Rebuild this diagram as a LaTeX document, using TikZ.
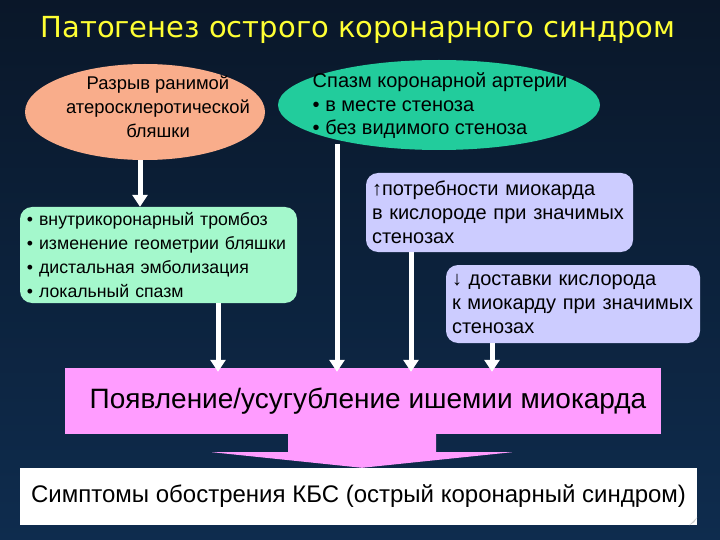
\documentclass[tikz,border=0pt]{standalone}
\usepackage{fontspec}
\setmainfont{Liberation Sans}
\newfontfamily\titlefont{DejaVu Sans}
\usetikzlibrary{shapes.geometric,arrows.meta,calc}
\definecolor{bgtop}{HTML}{0A1729}
\definecolor{bgbot}{HTML}{0E2C4E}
\definecolor{salmon}{HTML}{F9AD8B}
\definecolor{teal}{HTML}{22CC9C}
\definecolor{mint}{HTML}{A4F8CC}
\definecolor{lav}{HTML}{CCCCFF}
\definecolor{pinkbox}{HTML}{FF9CFF}
\definecolor{ttl}{HTML}{FFFF33}
\tikzset{
  ell/.style={ellipse, inner sep=0pt},
  rbox/.style={rectangle, rounded corners=12pt, text=black, align=left, inner ysep=0pt},
  wa/.style={draw=white, line width=5pt, -{Triangle[width=15pt,length=12pt]}},
}
\begin{document}
\begin{tikzpicture}[x=1pt,y=-1pt]
\useasboundingbox (0,0) rectangle (720,540);
\shade[top color=bgtop, bottom color=bgbot] (0,0) rectangle (720,540);
\node[text=ttl, font=\titlefont\fontsize{29}{32}\selectfont] (title) at (358,30) {Патогенез острого коронарного синдром};
\node[ell, fill=salmon, minimum width=240pt, minimum height=96pt] (e1) at (145,112) {};
\node[align=center, text=black, inner sep=0pt, font=\fontsize{18.4}{24}\selectfont] (e1t) at (158,107)
  {Разрыв ранимой\\атеросклеротической\\бляшки};
\node[ell, fill=teal, minimum width=322pt, minimum height=90pt] (e2) at (439,105) {};
\node[align=left, text=black, inner sep=0pt, font=\fontsize{20}{23.5}\selectfont] (e2t) at (440,106)
  {Спазм коронарной артерии\\• в месте стеноза\\• без видимого стеноза};
\node[rbox, fill=mint, inner xsep=7pt, text width=263pt, minimum height=96pt,
  font=\fontsize{17.7}{24}\selectfont] (m) at (158.5,255)
  {• внутрикоронарный тромбоз\\• изменение геометрии бляшки\\• дистальная эмболизация\\• локальный спазм};
\node[rbox, fill=lav, inner xsep=6pt, text width=255pt, minimum height=79pt,
  font=\fontsize{20}{24}\selectfont] (l1) at (499.5,212.5)
  {↑потребности миокарда\\в кислороде при значимых\\стенозах};
\node[rbox, fill=lav, inner xsep=6pt, text width=242pt, minimum height=78pt,
  font=\fontsize{20}{24}\selectfont] (l2) at (573,304)
  {↓ доставки кислорода\\к миокарду при значимых\\стенозах};
\node[rectangle, fill=pinkbox, minimum width=596pt, minimum height=66pt, inner sep=0pt,
  font=\fontsize{28}{30}\selectfont] (p) at (363,401) {\raisebox{-4pt}{\hspace*{10pt}Появление/усугубление ишемии миокарда}};
\node[rectangle, fill=white, minimum width=677pt, minimum height=57pt, inner sep=0pt,
  font=\fontsize{24}{26}\selectfont] (w) at (358.5,496.5) {\raisebox{3pt}{Симптомы обострения КБС (острый коронарный синдром)}};
\fill[gray!40] ($(w.south east)+(-8,0)$) -- ($(w.south east)+(0,-8)$) -- ($(w.south east)+(-3,-3)$) -- cycle;
% block arrow
\fill[pinkbox] ($(p.south)+(-75,0)$) -- ($(p.south)+(73,0)$) -- ($(p.south)+(73,18)$) -- ($(p.south)+(149,18)$)
  -- (w.north -| 362,0) -- ($(p.south)+(-151,18)$) -- ($(p.south)+(-75,18)$) -- cycle;
% arrows
\coordinate (a0) at (140,0);
\coordinate (a1) at (218,0);
\coordinate (a2) at (337,0);
\coordinate (a3) at (411,0);
\coordinate (a4) at (492,0);
\draw[wa] (e1.south -| a0) -- (m.north -| a0);
\draw[wa] (m.south -| a1) -- ($(p.north -| a1)+(0,4)$);
\draw[wa] ($(e2.south -| a2)+(0,-6)$) -- ($(p.north -| a2)+(0,4)$);
\draw[wa] (l1.south -| a3) -- ($(p.north -| a3)+(0,4)$);
\draw[wa] (l2.south -| a4) -- ($(p.north -| a4)+(0,4)$);
\end{tikzpicture}
\end{document}
